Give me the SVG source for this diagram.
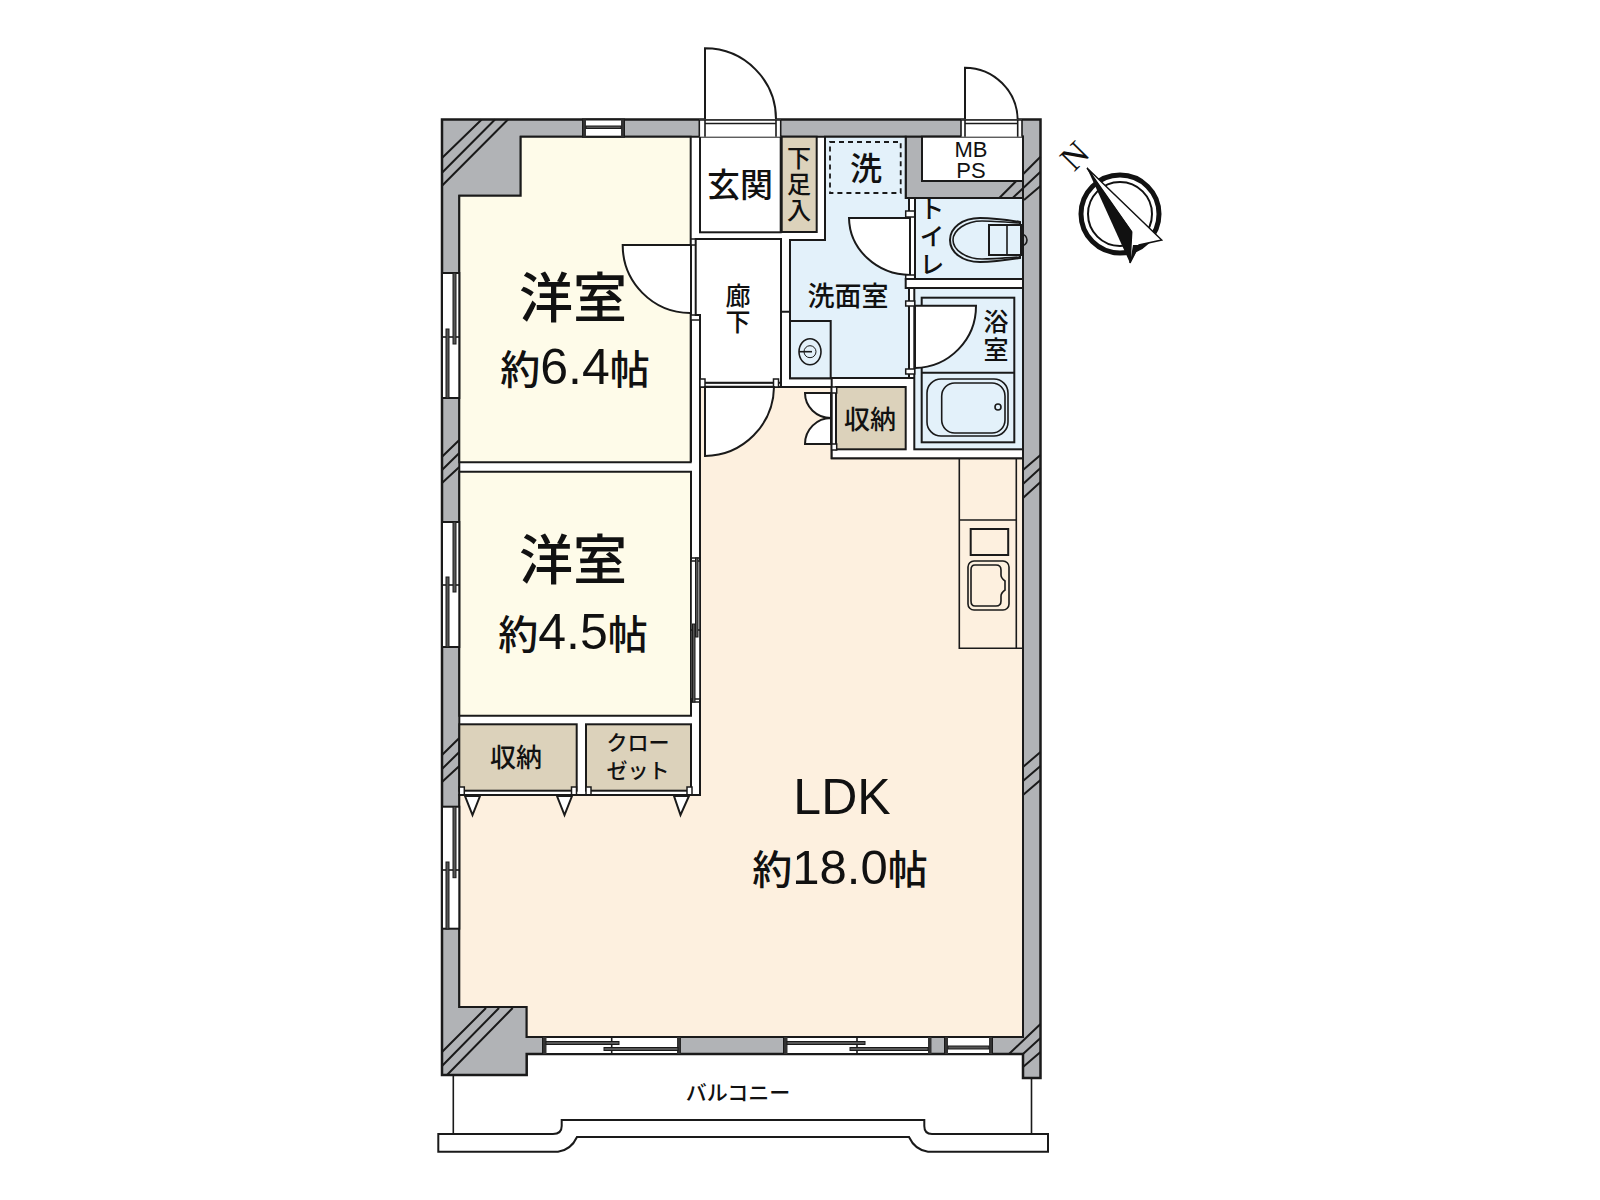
<svg xmlns="http://www.w3.org/2000/svg" width="1600" height="1200" viewBox="0 0 1600 1200">
<style>
.l{fill:none;stroke:#1a1a1a;stroke-width:2}
.t{fill:none;stroke:#1a1a1a;stroke-width:1.6}
.wall{fill:#b1b3b6;stroke:#1a1a1a;stroke-width:2.5}
.gr{fill:#b1b3b6;stroke:#1a1a1a;stroke-width:2}
.wh{fill:#fff;stroke:#1a1a1a;stroke-width:2}
.j{fill:#fff;stroke:#1a1a1a;stroke-width:1.5}
.sash{fill:#555;stroke:#1a1a1a;stroke-width:1}
.tan{fill:#dcd2bb;stroke:#1a1a1a;stroke-width:2}
.blue{fill:#e3f1fa;stroke:#1a1a1a;stroke-width:2}
.cream{fill:#fefbe9;stroke:#1a1a1a;stroke-width:2}
.peach{fill:#fdf0df;stroke:#1a1a1a;stroke-width:2}
.dk{fill:#333}
text{font-family:"Noto Sans CJK JP","Liberation Sans",sans-serif;fill:#111;text-anchor:middle;font-weight:500}
.n{font-family:"Liberation Sans","Noto Sans CJK JP",sans-serif;font-weight:400}
.v{writing-mode:vertical-rl;text-orientation:upright}
</style>
<g id="walls">
<path class="wall" d="M442 119.500H1040.500V1078H1023V1054H526.700V1075H442Z"/>
<path class="wh" d="M459.300 195.700H520.700V136.700H1023V1037H526.700V1007H459.300Z"/>
<path class="gr" d="M905.700 136.700H1023V198H905.700Z"/>
<g class="l">
<path d="M481.700 119.500L442 158M495 119.500L442 172.700M508 119.500L442 185.700"/>
<path d="M1040.500 156.700L999.300 198M1040.500 171.700L1012.700 198M1040.500 186L1024 200"/>
<path d="M459.300 440L442 456.700M459.300 453L442 470M459.300 467L442 483"/>
<path d="M459.300 738L442 755M459.300 752L442 769M459.300 766L442 782"/>
<path d="M1040.500 455L1023 470M1040.500 468L1023 484M1040.500 482L1023 498"/>
<path d="M1040.500 752L1023 767M1040.500 766L1023 781M1040.500 780L1023 795"/>
<path d="M486 1008L442 1052M499 1008L442 1066M512.700 1008L447 1075"/>
<path d="M1040.500 1024L1009 1054M1040.500 1038L1023 1054M1040.500 1052L1023 1067"/>
</g>
</g>
<g id="ldk">
<path class="peach" d="M700 387H831.700V458.300H1023V1037H526.700V1007H459.300V795H700Z"/>
<path class="t" d="M959.300 458.300V648.300H1022.700M1016.300 458.300V648.300M959.300 520H1016.300"/>
<rect class="l" x="970.700" y="529" width="37.500" height="26"/>
<rect class="t" x="968" y="561" width="41" height="49" rx="6"/>
<path class="t" d="M975 565H996Q1001 565 1001 570V575Q1001 578 1005 581V590Q1001 593 1001 596V601Q1001 606 996 606H975Q971 606 971 601V570Q971 565 975 565Z"/>
<text x="842" y="814" font-size="50" class="n">LDK</text>
<text x="840" y="884" font-size="40">約<tspan class="n" font-size="49">18.0</tspan>帖</text>
</g>
<g id="bedroom1">
<path class="cream" d="M459.300 195.700H520.700V136.700H690.700V462.300H459.300Z"/>
<path class="wh" d="M622.700 245H691V313H690A68 68 0 0 1 622.700 245Z"/>
<text x="573" y="318" font-size="54">洋室</text>
<text x="575" y="384" font-size="40">約<tspan class="n" font-size="50">6.4</tspan>帖</text>
</g>
<g id="bedroom2">
<path class="cream" d="M459.300 471.700H691V715.700H459.300Z"/>
<text x="573" y="580" font-size="54">洋室</text>
<text x="573" y="649" font-size="40">約<tspan class="n" font-size="50">4.5</tspan>帖</text>
</g>
<g id="storage-left">
<rect class="tan" x="459.300" y="724.300" width="117.400" height="66.400"/>
<rect class="j" x="459.300" y="787" width="5" height="8"/>
<rect class="j" x="571.500" y="787" width="5" height="8"/>
<path class="wh" d="M465 796H480L472.500 815Z"/>
<path class="wh" d="M557 796H572L564.500 815Z"/>
<text x="516" y="767" font-size="26">収納</text>
</g>
<g id="closet">
<rect class="tan" x="586" y="724.300" width="105" height="66.400"/>
<rect class="j" x="586" y="787" width="5" height="8"/>
<rect class="j" x="687" y="787" width="5" height="8"/>
<path class="wh" d="M674 796H689L680.500 815Z"/>
<text x="638" y="750" font-size="21">クロー</text>
<text x="638" y="778" font-size="21">ゼット</text>
</g>
<g id="partitions">
<path class="l" d="M459.300 795H700V724M700 387V558M700 702V795M700 315V387M691 239V462M691 471.700V558"/>
<rect class="j" x="691" y="239" width="9" height="6"/>
<rect class="j" x="691" y="315" width="9" height="5"/>
<rect x="691" y="560" width="9" height="140" fill="#fff"/>
<path class="t" d="M691 557V702M700 557V702M691 558H700M691 561H700M691 699H700M691 702H700M691 630H700"/>
<rect class="sash" x="695.500" y="558" width="2.500" height="79"/>
<rect class="sash" x="692.500" y="624" width="2.500" height="78"/>
</g>
<g id="genkan">
<rect class="wh" x="700" y="136.700" width="80.700" height="95.600"/>
<path class="l" d="M700 239H781"/>
<text x="740" y="197" font-size="33">玄関</text>
</g>
<g id="entry-door">
<path class="wh" d="M705 48.300A71 71 0 0 1 776 120H705Z"/>
<rect x="699.300" y="119.500" width="81.400" height="17.200" fill="#fff"/>
<path class="t" d="M699.300 119.500V136.700M705 119.500V136.700M776 119.500V136.700M780.700 119.500V136.700M699.300 120H780.700M705 123.500H776"/>
</g>
<g id="shoe">
<rect class="tan" x="781.700" y="136.700" width="35" height="95.300"/>
<text x="799" y="185" font-size="24" class="v" letter-spacing="2">下足入</text>
</g>
<g id="hall">
<path class="wh" d="M695.700 239H781V382.700H700V315H695.700Z"/>
<text x="738" y="309" font-size="25" class="v" letter-spacing="1">廊下</text>
<path class="t" d="M700 382.700H779M700 386.500H779"/>
<rect class="j" x="700" y="379" width="5" height="8"/>
<rect class="j" x="773.500" y="379" width="5" height="8"/>
<path class="wh" d="M705 387H774A70 70 0 0 1 705 456Z"/>
</g>
<g id="washroom">
<path class="blue" d="M825 136.700H905.700V198H909V378.300H790V240H825Z"/>
<rect fill="none" stroke="#1a1a1a" stroke-width="1.800" stroke-dasharray="5 4" x="830" y="142" width="70.700" height="51"/>
<path class="wh" d="M849 218H910V275A62 58 0 0 1 849 218Z"/>
<path class="blue" d="M790 321H830.700V378.300H790Z"/>
<ellipse class="t" cx="810" cy="351.700" rx="11" ry="13"/>
<path class="t" d="M799 351.700H812"/>
<circle cx="810" cy="351.700" r="6" fill="none" stroke="#1a1a1a" stroke-width="1"/>
<path class="l" d="M781 240V387H831M781 311.700H790"/>
<rect class="j" x="905.700" y="211" width="9" height="6"/>
<rect class="j" x="905.700" y="275" width="9" height="5"/>
<text x="866" y="180" font-size="32">洗</text>
<text x="848" y="306" font-size="27">洗面室</text>
</g>
<g id="mbps">
<rect class="wh" x="922" y="136.700" width="101" height="44.300"/>
<text font-size="22" class="n"><tspan x="971" y="157">MB</tspan><tspan x="971" y="178">PS</tspan></text>
</g>
<g id="mbps-door">
<path class="wh" d="M965 67.700A53 53 0 0 1 1017.700 120H965Z"/>
<rect x="961" y="119.500" width="61" height="17.200" fill="#fff"/>
<path class="t" d="M961 119.500V136.700M965 119.500V136.700M1017.700 119.500V136.700M1022 119.500V136.700M961 120H1022M965 123.500H1017.700"/>
</g>
<g id="storage-mid">
<path class="wh" d="M831.700 378H1023V458.300H831.700Z"/>
<rect class="tan" x="836" y="387" width="69.700" height="62.300"/>
<rect class="j" x="831.700" y="387" width="5" height="6"/>
<rect class="j" x="831.700" y="444" width="5" height="6"/>
<path class="wh" d="M805 393H831V418A26 25 0 0 1 805 393Z"/>
<path class="wh" d="M805 444H831V418A26 26 0 0 0 805 444Z"/>
<text x="870" y="429" font-size="26">収納</text>
</g>
<g id="toilet">
<rect class="blue" x="915" y="198" width="108" height="81"/>
<path class="l" d="M1020 222Q995 218 980 218C962 218 950 228 950 240S962 262 980 262Q995 262 1020 258Z"/>
<path class="t" d="M1020 223Q990 221 982 221C966 221 953 230 953 240S966 259 982 259Q990 259 1020 257"/>
<path class="blue" d="M989 225H1021V255H989Z"/>
<path class="t" d="M1007 225V255"/>
<path class="t" d="M1021 234A6 6 0 0 1 1021 246"/>
<text x="932" y="238" font-size="25" class="v" letter-spacing="3">トイレ</text>
</g>
<g id="bath">
<path class="wh" d="M905.700 279H1023V288H905.700Z"/>
<rect class="blue" x="914.300" y="288" width="108.700" height="161.300"/>
<rect class="blue" x="921.700" y="297.700" width="92.600" height="144.600"/>
<path class="l" d="M921.700 372.700H1014.300"/>
<path class="wh" d="M915 305.700H976A62 62 0 0 1 915 368Z"/>
<rect class="j" x="905.700" y="301" width="9" height="5"/>
<rect class="j" x="905.700" y="369" width="9" height="5"/>
<rect class="t" x="927" y="379" width="81" height="57" rx="14"/>
<rect class="t" x="941.700" y="383" width="63.300" height="50" rx="13"/>
<circle class="t" cx="998" cy="407" r="3"/>
<text x="996" y="337" font-size="25" class="v" letter-spacing="3">浴室</text>
</g>
<g id="windows">
<g id="win-top">
<rect class="wh" x="583" y="119.500" width="41" height="17.200"/>
<rect class="dk" x="583" y="119.500" width="3" height="17.200"/><rect class="dk" x="621" y="119.500" width="3" height="17.200"/>
<rect class="sash" x="586" y="126" width="35" height="2.500"/>
</g>
<g id="win-left-1">
<rect class="wh" x="442" y="273" width="17.300" height="125"/>
<path class="t" d="M442 337H459.300"/>
<rect class="sash" x="453" y="273" width="3" height="71"/><rect class="sash" x="446" y="329" width="3" height="69"/>
</g>
<g id="win-left-2">
<rect class="wh" x="442" y="522" width="17.300" height="125"/>
<path class="t" d="M442 585H459.300"/>
<rect class="sash" x="453" y="522" width="3" height="70"/><rect class="sash" x="446" y="577" width="3" height="70"/>
</g>
<g id="win-left-3">
<rect class="wh" x="442" y="806.700" width="17.300" height="122"/>
<path class="t" d="M442 870H459.300"/>
<rect class="sash" x="453" y="806.700" width="3" height="71"/><rect class="sash" x="446" y="862" width="3" height="67"/>
</g>
<g id="win-bottom-1">
<rect class="wh" x="543" y="1037" width="137" height="17"/>
<path class="t" d="M611.700 1037V1054"/>
<rect class="dk" x="543" y="1037" width="3.500" height="17"/><rect class="dk" x="677" y="1037" width="3.500" height="17"/>
<rect class="sash" x="546" y="1041.500" width="73" height="3"/><rect class="sash" x="604" y="1047.500" width="74" height="3"/>
</g>
<g id="win-bottom-2">
<rect class="wh" x="784" y="1037" width="146" height="17"/>
<path class="t" d="M857 1037V1054"/>
<rect class="dk" x="784" y="1037" width="3.500" height="17"/><rect class="dk" x="928" y="1037" width="3.500" height="17"/>
<rect class="sash" x="787" y="1041.500" width="78" height="3"/><rect class="sash" x="850" y="1047.500" width="78" height="3"/>
</g>
<g id="win-bottom-3">
<rect class="wh" x="945" y="1037" width="47" height="17"/>
<rect class="dk" x="945" y="1037" width="3" height="17"/><rect class="dk" x="989" y="1037" width="3" height="17"/>
<rect class="sash" x="948" y="1046" width="41" height="3"/>
</g>
</g>
<g id="balcony">
<path class="t" d="M453.300 1075V1134M1031.500 1078V1134"/>
<path class="l" d="M453 1134H553Q561.700 1134 561.700 1126V1120H924.300V1126Q924.300 1134 932 1134H1048V1151.700H928Q915 1150 909 1137H577Q571 1150 558 1151.700H438.300V1134H453"/>
<text x="738" y="1100" font-size="21">バルコニー</text>
</g>
<g id="compass">
<circle cx="1120" cy="214" r="39" fill="#fff" stroke="#111" stroke-width="5"/>
<circle cx="1120" cy="214" r="32" fill="none" stroke="#111" stroke-width="2"/>
<path fill="#fff" stroke="#111" stroke-width="1.500" d="M1087 168L1161.700 240L1139 245L1130 263L1131.700 232Z"/>
<path fill="#111" d="M1087 168L1131.700 231L1130 263Z"/>
<path fill="#111" d="M1133 245L1140 245L1130 263Z"/>
<text x="1075" y="156" font-size="34" dy="11" style="font-family:'Liberation Serif',serif;font-weight:400" transform="rotate(-45 1075 156)">N</text>
</g>
</svg>
